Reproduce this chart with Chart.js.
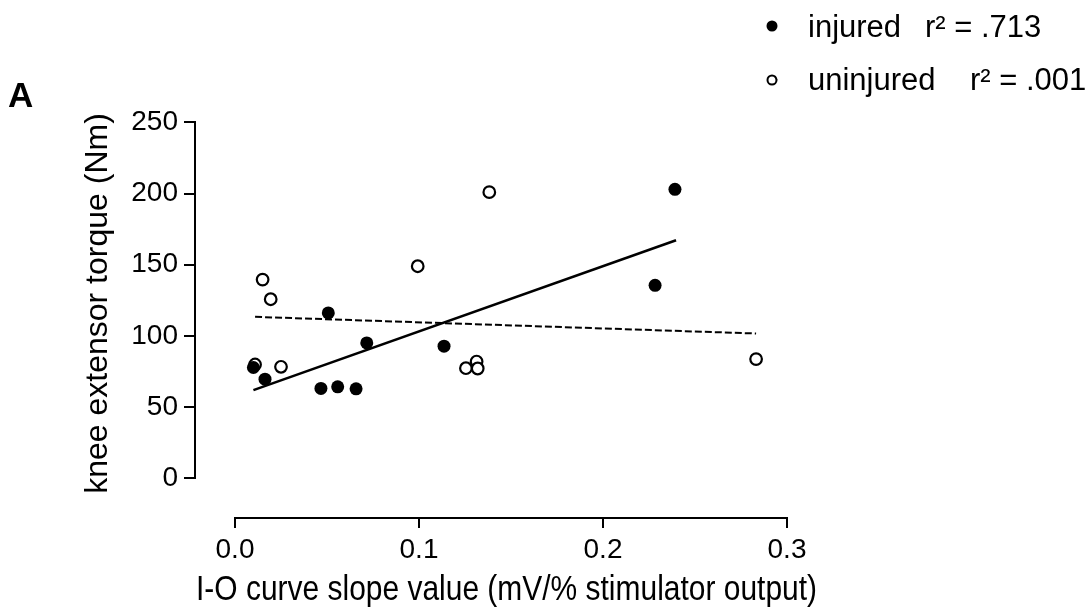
<!DOCTYPE html>
<html>
<head>
<meta charset="utf-8">
<script src="https://cdn.jsdelivr.net/npm/chart.js@4"></script>
<style>
  html, body { margin: 0; padding: 0; background: #fff; }
  #wrap { width: 1088px; height: 611px; position: relative; }
</style>
</head>
<body>
<div id="wrap"><canvas id="c"></canvas></div>
<script>
// ---- data ----
const seriesLabels = ['injured', 'uninjured'];
const seriesR2 = ['r\u00B2 = .713', 'r\u00B2 = .001'];
const injuredX = [0.0100, 0.0163, 0.0467, 0.0507, 0.0558, 0.0658, 0.0716, 0.1136, 0.2283, 0.2391];
const injuredY = [77.7, 69.5, 63.0, 116.1, 64.1, 62.7, 95.0, 92.7, 135.5, 203];
const uninjuredX = [0.0109, 0.0150, 0.0194, 0.0250, 0.0993, 0.1255, 0.1313, 0.1319, 0.1382, 0.2832];
const uninjuredY = [79.8, 139.5, 125.7, 78.2, 148.9, 77.2, 81.9, 77.0, 201, 83.6];
const injuredFitX = [0.0100, 0.2397];
const injuredFitY = [61.8, 167.1];
const uninjuredFitX = [0.0109, 0.2832];
const uninjuredFitY = [113.3, 101.6];
const xTickValues = [0, 0.1, 0.2, 0.3];
const xTickLabels = ['0.0', '0.1', '0.2', '0.3'];
const yTickValues = [0, 50, 100, 150, 200, 250];
const yTickLabels = ['0', '50', '100', '150', '200', '250'];
const xTitle = 'I-O curve slope value (mV/% stimulator output)';
const yTitle = 'knee extensor torque (Nm)';
const panelLabel = 'A';

const FONT = '"Liberation Sans", Arial, "DejaVu Sans", sans-serif';
const toPts = (xs, ys) => xs.map((x, i) => ({ x: x, y: ys[i] }));

const axesAndLegend = {
  id: 'axesAndLegend',
  afterDraw(chart) {
    const ctx = chart.ctx;
    const xs = chart.scales.x, ys = chart.scales.y;
    const ca = chart.chartArea;
    ctx.save();
    ctx.strokeStyle = '#000';
    ctx.lineWidth = 2;
    ctx.lineCap = 'square';
    // y axis line (offset axis)
    ctx.beginPath();
    ctx.moveTo(ca.left - 1, ys.getPixelForValue(yTickValues[0]));
    ctx.lineTo(ca.left - 1, ys.getPixelForValue(yTickValues[yTickValues.length - 1]));
    ctx.stroke();
    // x axis line
    ctx.beginPath();
    ctx.moveTo(xs.getPixelForValue(xTickValues[0]), ca.bottom + 1);
    ctx.lineTo(xs.getPixelForValue(xTickValues[xTickValues.length - 1]), ca.bottom + 1);
    ctx.stroke();

    // panel label
    ctx.fillStyle = '#000';
    ctx.font = 'bold 35px ' + FONT;
    ctx.textBaseline = 'alphabetic';
    ctx.textAlign = 'left';
    ctx.fillText(panelLabel, 8, 107);

    // legend
    const rows = [
      { y: 37, my: 26, rx: 925, ds: chart.data.datasets[0], r2: seriesR2[0] },
      { y: 90, my: 80, rx: 970, ds: chart.data.datasets[1], r2: seriesR2[1] }
    ];
    ctx.font = '31px ' + FONT;
    rows.forEach(r => {
      ctx.beginPath();
      ctx.arc(772, r.my, r.ds.borderWidth ? 4.5 : 5.5, 0, Math.PI * 2);
      if (r.ds.borderWidth) {
        ctx.fillStyle = '#fff'; ctx.fill();
        ctx.lineWidth = 2; ctx.strokeStyle = '#000'; ctx.stroke();
      } else {
        ctx.fillStyle = '#000'; ctx.fill();
      }
      ctx.fillStyle = '#000';
      ctx.fillText(r.ds.label, 808, r.y);
      ctx.fillText(r.r2, r.rx, r.y);
    });
    ctx.restore();
  }
};

new Chart(document.getElementById('c'), {
  type: 'scatter',
  data: {
    datasets: [
      { label: seriesLabels[0], data: toPts(injuredX, injuredY),
        pointStyle: 'circle', pointRadius: 6.5, pointBackgroundColor: '#000',
        pointBorderWidth: 0, borderWidth: 0, backgroundColor: '#000' },
      { label: seriesLabels[1], data: toPts(uninjuredX, uninjuredY),
        pointStyle: 'circle', pointRadius: 5.8, pointBackgroundColor: '#fff',
        pointBorderColor: '#000', pointBorderWidth: 2.2, borderWidth: 2.2, borderColor: '#000' },
      { label: 'injured fit', data: toPts(injuredFitX, injuredFitY), showLine: true,
        pointRadius: 0, borderColor: '#000', borderWidth: 2.6, fill: false },
      { label: 'uninjured fit', data: toPts(uninjuredFitX, uninjuredFitY), showLine: true,
        pointRadius: 0, borderColor: '#000', borderWidth: 2, borderDash: [7, 3], fill: false }
    ]
  },
  options: {
    responsive: true,
    maintainAspectRatio: false,
    animation: false,
    devicePixelRatio: 1,
    layout: { padding: { top: 90, right: 271, bottom: 0, left: 0 } },
    plugins: { legend: { display: false }, tooltip: { enabled: false } },
    scales: {
      x: {
        type: 'linear',
        min: -0.0212, max: 0.3163,
        afterBuildTicks: s => { s.ticks = xTickValues.map(v => ({ value: v })); },
        afterFit: s => { s.height = 94; },
        ticks: {
          callback: (v) => xTickLabels[xTickValues.indexOf(v)] ?? '',
          color: '#000', font: { family: FONT, size: 28 }, padding: 5, maxRotation: 0
        },
        grid: { display: true, drawOnChartArea: false, drawTicks: true, tickLength: 11, color: '#000', lineWidth: 2 },
        border: { display: false },
        title: { display: true, text: xTitle, color: '#000', font: { family: FONT, size: 35 }, padding: { top: 0, bottom: 0 } }
      },
      y: {
        type: 'linear',
        min: -27.4, max: 272.8,
        afterBuildTicks: s => { s.ticks = yTickValues.map(v => ({ value: v })); },
        afterFit: s => { s.width = 196; },
        ticks: {
          callback: (v) => yTickLabels[yTickValues.indexOf(v)] ?? '',
          color: '#000', font: { family: FONT, size: 28 }, padding: 6
        },
        grid: { display: true, drawOnChartArea: false, drawTicks: true, tickLength: 12, color: '#000', lineWidth: 2 },
        border: { display: false },
        title: { display: true, text: yTitle, color: '#000', font: { family: FONT, size: 32 }, padding: { top: 79, bottom: 0 } }
      }
    }
  },
  plugins: [axesAndLegend]
});
</script>
</body>
</html>
